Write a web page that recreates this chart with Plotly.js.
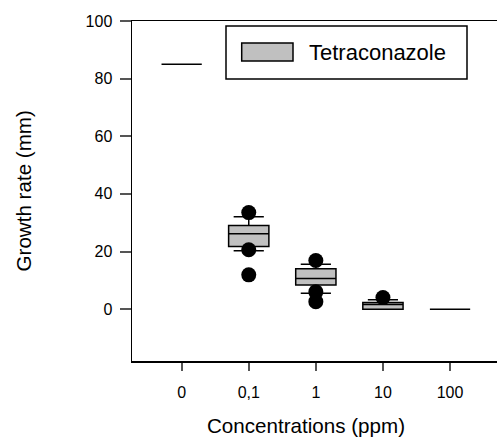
<!DOCTYPE html>
<html>
<head>
<meta charset="utf-8">
<script src="https://cdn.plot.ly/plotly-3.0.1.min.js"></script>
<style>
  html, body { margin: 0; padding: 0; background: #fff; }
  #chart { width: 497px; height: 444px; }
</style>
</head>
<body>
<div id="chart"></div>
<script>
// Concentration groups on the x axis
const concentrations = ['0', '0,1', '1', '10', '100'];

// Box summary statistics of growth rate (mm) per concentration
const q1Values      = [85, 21.7, 8.4, 0.0, 0];
const medianValues  = [85, 26.2, 10.6, 1.6, 0];
const q3Values      = [85, 29.0, 14.0, 2.3, 0];
const lowerWhiskers = [85, 20.3, 5.5, 0.0, 0];
const upperWhiskers = [85, 32.1, 15.6, 3.3, 0];

// Outlying observations
const outlierGroups = ['0,1', '0,1', '0,1', '1', '1', '1', '10'];
const outlierValues = [33.5, 20.6, 11.9, 16.9, 6.0, 2.6, 4.0];

const yTicks = [0, 20, 40, 60, 80, 100];

const FONT = 'Liberation Sans, Arial, sans-serif';

const boxTrace = {
  type: 'box',
  name: 'Tetraconazole',
  x: concentrations,
  q1: q1Values,
  median: medianValues,
  q3: q3Values,
  lowerfence: lowerWhiskers,
  upperfence: upperWhiskers,
  boxpoints: false,
  width: 0.6,
  whiskerwidth: 0.75,
  fillcolor: '#c0c0c0',
  line: { color: '#000000', width: 1.5 },
  hoverinfo: 'skip',
  showlegend: false
};

const outlierTrace = {
  type: 'scatter',
  mode: 'markers',
  x: outlierGroups,
  y: outlierValues,
  marker: { color: '#000000', size: 15 },
  hoverinfo: 'skip',
  showlegend: false
};

// Pixel -> paper helpers for the plot area (l=132, t=21, w=365, h=340)
const PL = 132, PT = 21, PW = 365, PH = 340;
const px = v => (v - PL) / PW;
const py = v => (PT + PH - v) / PH;

const layout = {
  width: 497,
  height: 444,
  margin: { l: PL, r: 0, t: PT, b: 444 - PT - PH, pad: 0 },
  paper_bgcolor: '#ffffff',
  plot_bgcolor: '#ffffff',
  font: { family: FONT, color: '#000000' },
  showlegend: false,
  xaxis: {
    type: 'category',
    categoryorder: 'array',
    categoryarray: concentrations,
    range: [-0.74, 4.70],
    showgrid: false,
    zeroline: false,
    showline: true,
    linecolor: '#000000',
    linewidth: 1.5,
    mirror: true,
    ticks: 'outside',
    ticklen: 8,
    tickwidth: 2,
    tickcolor: '#555555',
    ticklabelstandoff: 8,
    tickfont: { family: FONT, size: 16, color: '#000000' },
    fixedrange: true
  },
  yaxis: {
    range: [-18, 100],
    tickvals: yTicks,
    ticktext: yTicks.map(String),
    showgrid: false,
    zeroline: false,
    showline: true,
    linecolor: '#000000',
    linewidth: 1.5,
    ticks: 'outside',
    ticklen: 11,
    tickwidth: 2,
    tickcolor: '#555555',
    ticklabelstandoff: 4,
    tickfont: { family: FONT, size: 16, color: '#000000' },
    fixedrange: true
  },
  shapes: [
    // legend frame
    { type: 'rect', xref: 'paper', yref: 'paper',
      x0: px(226), x1: px(467), y0: py(79), y1: py(26),
      line: { color: '#000000', width: 1.5 }, fillcolor: '#ffffff', layer: 'above' },
    // legend swatch
    { type: 'rect', xref: 'paper', yref: 'paper',
      x0: px(241.7), x1: px(293), y0: py(61), y1: py(43),
      line: { color: '#000000', width: 1.5 }, fillcolor: '#c0c0c0', layer: 'above' }
  ],
  annotations: [
    { text: 'Tetraconazole', xref: 'paper', yref: 'paper',
      x: px(307), y: py(52), xanchor: 'left', yanchor: 'middle',
      showarrow: false, font: { family: FONT, size: 22, color: '#000000' } },
    { text: 'Concentrations (ppm)', xref: 'paper', yref: 'paper',
      x: px(306), y: py(425.5), xanchor: 'center', yanchor: 'middle',
      showarrow: false, font: { family: FONT, size: 20.6, color: '#000000' } },
    { text: 'Growth rate (mm)', xref: 'paper', yref: 'paper',
      x: px(23), y: py(191.5), xanchor: 'center', yanchor: 'middle',
      textangle: -90,
      showarrow: false, font: { family: FONT, size: 20.6, color: '#000000' } }
  ]
};

Plotly.newPlot('chart', [boxTrace, outlierTrace], layout, { displayModeBar: false, staticPlot: true });
</script>
</body>
</html>
